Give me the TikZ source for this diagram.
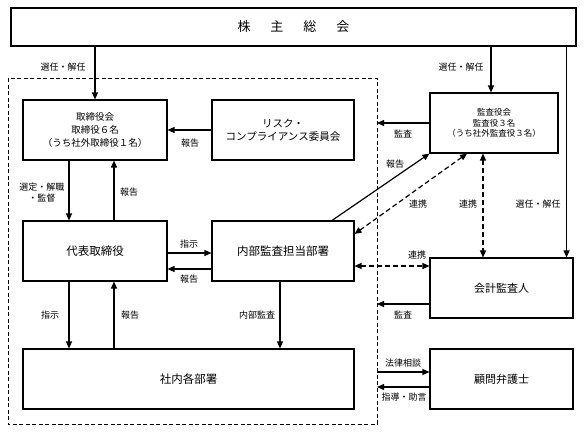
\documentclass[tikz,border=0pt]{standalone}
\usepackage{fontspec}
\setmainfont{Noto Sans CJK JP}
\usetikzlibrary{arrows.meta}

\begin{document}
\begin{tikzpicture}[x=1pt,y=-1pt]
    \tikzset{box/.style = {shape=rectangle, draw, line width=1.1pt, minimum height=60pt, inner sep=0pt, align=center, font=\fontsize{11}{13}\selectfont}}
    \tikzset{lbl/.style = {inner sep=0pt, align=center, font=\fontsize{9}{11}\selectfont}}
    \tikzset{arr/.style = {draw, line width=1.2pt, -{Triangle[length=7pt,width=6pt]}}}
    \tikzset{link/.style = {draw, line width=1.2pt, dash pattern=on 5pt off 3pt, {Triangle[length=7pt,width=6pt]}-{Triangle[length=7pt,width=6pt]}}}
    \useasboundingbox (0,0) rectangle (584,432);
    % frame of the company
    \draw[line width=0.9pt, dash pattern=on 4pt off 2.5pt] (8,78) rectangle (377,424);
    \coordinate (fr) at (377,78);
    % boxes
    \node[box, minimum width=565pt, minimum height=38pt, font=\fontsize{13}{15}\selectfont] (gm) at (293.5,27) {株\hspace{20pt}主\hspace{20pt}総\hspace{20pt}会};
    \node[box, minimum width=144pt, font=\fontsize{9.5}{13}\selectfont] (board) at (95,130) {取締役会\\取締役６名\\（うち社外取締役１名）};
    \node[box, minimum width=142pt, font=\fontsize{10.5}{13}\selectfont] (risk) at (283,130) {リスク・\\コンプライアンス委員会};
    \node[box, minimum width=128pt, font=\fontsize{8.5}{10.5}\selectfont] (kansa) at (494,123) {監査役会\\監査役３名\\（うち社外監査役３名）};
    \node[box, minimum width=144pt, font=\fontsize{11.5}{13}\selectfont] (ceo) at (95,251) {代表取締役};
    \node[box, minimum width=142pt, font=\fontsize{11.5}{13}\selectfont] (audit) at (283,251) {内部監査担当部署};
    \node[box, minimum width=331pt, font=\fontsize{11.5}{13}\selectfont] (depts) at (188.5,379) {社内各部署};
    \node[box, minimum width=143pt] (cpa) at (501.5,288) {会計監査人};
    \node[box, minimum width=143pt] (lawyer) at (501.5,379) {顧問弁護士};
    % connectors
    \draw[arr] (gm.south -| board.north) -- (board.north);
    \draw[arr] ([xshift=-3pt]kansa.north |- gm.south) -- ([xshift=-3pt]kansa.north);
    \draw[arr] ([xshift=-7pt]cpa.north east |- gm.south) -- ([xshift=-7pt]cpa.north east);
    \draw[arr] (risk.west) -- (board.east);
    \draw[arr] ([xshift=-26pt]board.south) -- ([xshift=-26pt]ceo.north);
    \draw[arr] ([xshift=19pt]ceo.north) -- ([xshift=19pt]board.south);
    \draw[arr] ([yshift=-2pt]ceo.east) -- ([yshift=-2pt]audit.west);
    \draw[arr] ([yshift=-18pt]audit.west) -- ([yshift=-18pt]ceo.east);
    \draw[arr] ([xshift=-26pt]ceo.south) -- ([xshift=-26pt]ceo.south |- depts.north);
    \draw[arr] ([xshift=19pt]ceo.south |- depts.north) -- ([xshift=19pt]ceo.south);
    \draw[arr] ([xshift=-3pt]audit.south) -- ([xshift=-3pt]audit.south |- depts.north);
    \draw[arr] ([xshift=49pt]audit.north) -- (kansa.south west);
    \draw[link] ([yshift=17pt]audit.east) -- ([xshift=-27pt]kansa.south);
    \draw[link] ([xshift=-11pt]kansa.south) -- ([xshift=-11pt]kansa.south |- cpa.north);
    \draw[link] ([yshift=-15pt]audit.east) -- ([yshift=-15pt]audit.east -| cpa.west);
    \draw[arr] (kansa.west) -- (kansa.west -| fr);
    \draw[arr] ([yshift=-16pt]cpa.west) -- ([yshift=-16pt]cpa.west -| fr);
    \draw[arr] ([yshift=7pt]lawyer.west -| fr) -- ([yshift=7pt]lawyer.west);
    \draw[arr] ([yshift=-8pt]lawyer.west) -- ([yshift=-8pt]lawyer.west -| fr);
    % labels
    \node[lbl] (l1) at (63,67) {選任・解任};
    \node[lbl] (l2) at (461,67) {選任・解任};
    \node[lbl] (l3) at (190,143) {報告};
    \node[lbl] (l4) at (42,193) {選定・解職\\・監督};
    \node[lbl] (l5) at (129,192) {報告};
    \node[lbl] (l6) at (403,134) {監査};
    \node[lbl] (l7) at (395,164) {報告};
    \node[lbl] (l8) at (418,204) {連携};
    \node[lbl] (l9) at (468,204) {連携};
    \node[lbl] (l10) at (538,204) {選任・解任};
    \node[lbl] (l11) at (189,244) {指示};
    \node[lbl] (l12) at (189,279) {報告};
    \node[lbl] (l13) at (417,255) {連携};
    \node[lbl] (l14) at (50,315) {指示};
    \node[lbl] (l15) at (130,315) {報告};
    \node[lbl] (l16) at (257,315) {内部監査};
    \node[lbl] (l17) at (403,315) {監査};
    \node[lbl] (l18) at (403,363) {法律相談};
    \node[lbl] (l19) at (404,397) {指導・助言};
\end{tikzpicture}
\end{document}
